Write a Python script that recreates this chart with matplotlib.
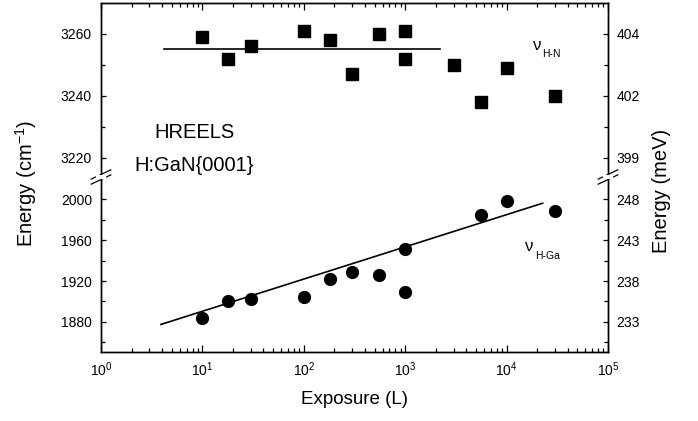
import matplotlib
matplotlib.use("Agg")
import matplotlib.pyplot as plt
from matplotlib.ticker import LogLocator, FixedLocator, NullFormatter, FuncFormatter

plt.rcParams['font.family'] = ['Liberation Sans', 'DejaVu Sans']
plt.rcParams['mathtext.fontset'] = 'custom'
plt.rcParams['mathtext.rm'] = 'Liberation Sans'
plt.rcParams['mathtext.it'] = 'Liberation Sans:italic'

# H-N stretch (squares), cm^-1
hn_x = [10, 18, 30, 100, 180, 300, 550, 1000, 1000, 3000, 5600, 10000, 30000]
hn_y = [3259, 3252, 3256, 3261, 3258, 3247, 3260, 3261, 3252, 3250, 3238, 3249, 3240]
hn_fit_x = [4.2, 2200]
hn_fit_y = [3255.2, 3255.2]

# H-Ga stretch (circles), cm^-1
hga_x = [10, 18, 30, 100, 180, 300, 550, 1000, 1000, 5600, 10000, 30000]
hga_y = [1884, 1900, 1902, 1904, 1922, 1929, 1926, 1951, 1909, 1985, 1998, 1989]
hga_fit_x = [3.9, 22700]
hga_fit_y = [1877.5, 1996.3]

top_ticks = [3220, 3240, 3260]
bot_ticks = [1880, 1920, 1960, 2000]
CM_PER_MEV = 8.0655

fig = plt.figure(figsize=(6.98, 4.21), dpi=100)
L, R = 0.1447, 0.871
ax1 = fig.add_axes([L, 0.5867, R - L, 0.9929 - 0.5867])
ax2 = fig.add_axes([L, 0.1639, R - L, 0.5760 - 0.1639])

for ax in (ax1, ax2):
    ax.set_xscale('log')
    ax.set_xlim(1, 1e5)
    ax.xaxis.set_major_locator(LogLocator(base=10, numticks=10))
    ax.xaxis.set_minor_locator(LogLocator(base=10, subs=range(2, 10), numticks=20))
    ax.tick_params(which='both', direction='in', width=0.9, labelsize=10)
    ax.tick_params(axis='x', which='major', length=5)
    ax.tick_params(axis='x', which='minor', length=3)
    ax.tick_params(axis='y', which='major', length=3.6, pad=6.5)
    ax.tick_params(axis='y', which='minor', length=2.8)
    for s in ax.spines.values():
        s.set_linewidth(1.0)

# top panel
ax1.plot(hn_x, hn_y, 's', color='black', ms=8)
ax1.plot(hn_fit_x, hn_fit_y, '-', color='black', lw=1.2)
ax1.set_ylim(3214.7, 3270)
ax1.set_yticks(top_ticks)
ax1.yaxis.set_minor_locator(FixedLocator([3230, 3250]))
ax1.spines['bottom'].set_visible(False)
ax1.tick_params(axis='x', which='both', bottom=False, top=True, labelbottom=False)

# bottom panel
ax2.plot(hga_x, hga_y, 'o', color='black', ms=8.5)
ax2.plot(hga_fit_x, hga_fit_y, '-', color='black', lw=1.2)
ax2.set_ylim(1850.5, 2020.5)
ax2.set_yticks(bot_ticks)
ax2.yaxis.set_minor_locator(FixedLocator([1860, 1900, 1940, 1980]))
ax2.spines['top'].set_visible(False)
ax2.tick_params(axis='x', which='both', top=False, bottom=True, pad=6)
ax2.xaxis.set_minor_formatter(NullFormatter())

# right axes in meV
mev_fmt = FuncFormatter(lambda v, p: '%d' % round(v / CM_PER_MEV))
for ax, ticks, minors in ((ax1, top_ticks, [3230, 3250]),
                          (ax2, bot_ticks, [1860, 1900, 1940, 1980])):
    tw = ax.twinx()
    tw.set_ylim(ax.get_ylim())
    tw.set_yticks(ticks)
    tw.yaxis.set_major_formatter(mev_fmt)
    tw.yaxis.set_minor_locator(FixedLocator(minors))
    tw.tick_params(which='both', direction='in', width=0.9, labelsize=10)
    tw.tick_params(which='major', length=3.6, pad=6)
    tw.tick_params(which='minor', length=2.8)
    tw.spines['top' if ax is ax2 else 'bottom'].set_visible(False)
    for s in tw.spines.values():
        s.set_linewidth(1.0)

# break marks
ybrk = 1 - 177 / 421
for xb in (L, R):
    for dy in (-0.006, 0.006):
        fig.add_artist(plt.Line2D([xb - 0.014, xb + 0.014],
                                  [ybrk + dy - 0.011, ybrk + dy + 0.011],
                                  color='black', lw=0.9))
    fig.add_artist(plt.Line2D([xb - 0.004, xb + 0.004], [ybrk, ybrk],
                              color='white', lw=3))

# labels
ax1.text(8.45, 3228.1, 'HREELS', fontsize=14.5, ha='center', va='center')
ax1.text(8.3, 3217.3, 'H:GaN{0001}', fontsize=14.5, ha='center', va='center')
ax1.text(18200, 3254.7, 'ν', fontsize=12, ha='left', va='baseline')
ax1.annotate('H-N', (18200, 3254.7), xytext=(6.5, -5), textcoords='offset points',
             fontsize=7.5, ha='left', va='baseline')
ax2.text(15200, 1949.6, 'ν', fontsize=12, ha='left', va='baseline')
ax2.annotate('H-Ga', (15200, 1949.6), xytext=(7, -5.8), textcoords='offset points',
             fontsize=7.5, ha='left', va='baseline')

fig.text(0.038, 0.565, r'Energy (cm$^{-1}$)', rotation=90, fontsize=14.5,
         ha='center', va='center')
fig.text(0.948, 0.546, 'Energy (meV)', rotation=90, fontsize=14.5,
         ha='center', va='center')
fig.text((L + R) / 2, 0.05, 'Exposure (L)', fontsize=13.5, ha='center', va='center')

fig.savefig('out.png', dpi=100)
